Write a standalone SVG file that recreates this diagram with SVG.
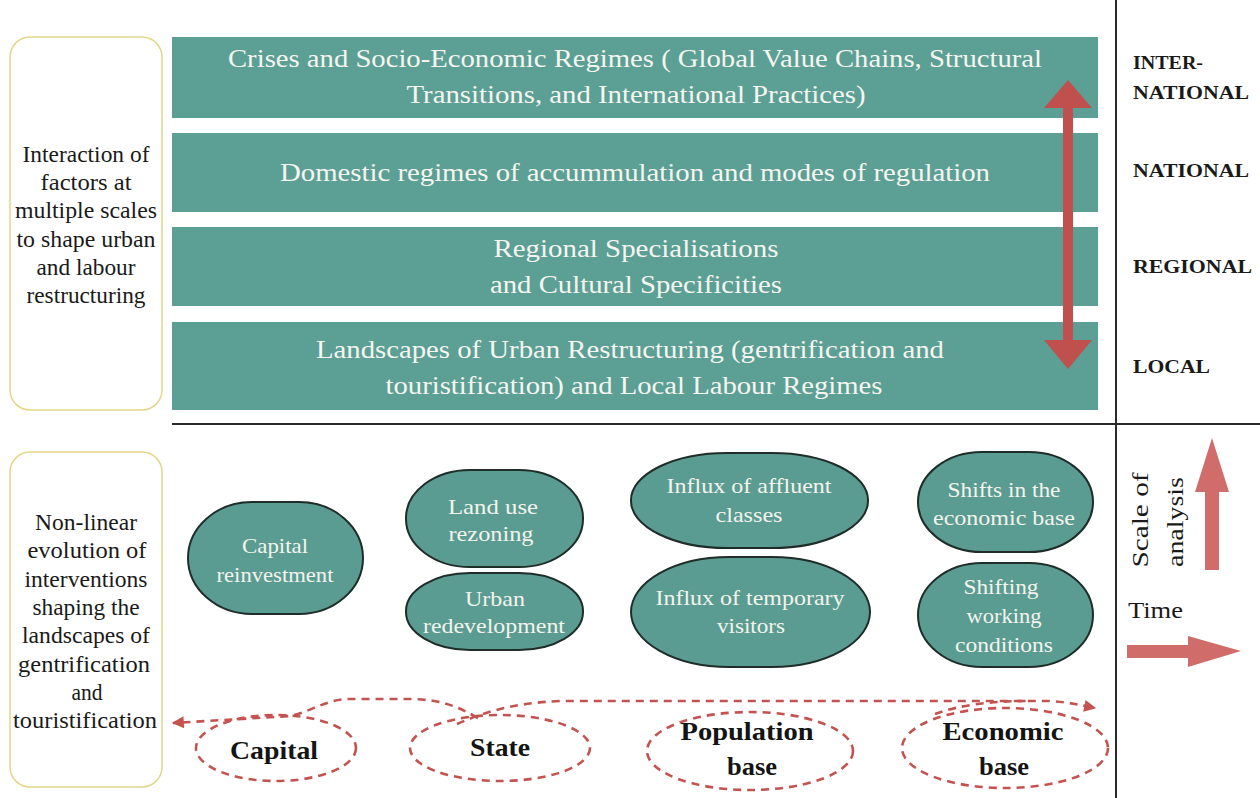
<svg xmlns="http://www.w3.org/2000/svg" width="1260" height="798" viewBox="0 0 1260 798">
  <defs>
    <style>
      .bar { fill: #5c9f95; }
      .bartxt { font-family: "Liberation Serif", "Times New Roman", serif; font-size: 26px; fill: #f6f6f0; text-anchor: middle; }
      .frame { fill: #ffffff; stroke: #e4d688; stroke-width: 1.5; }
      .sidetxt { font-family: "Liberation Serif", "Times New Roman", serif; font-size: 23px; fill: #1a1a1a; text-anchor: middle; }
      .scale { font-family: "Liberation Serif", "Times New Roman", serif; font-size: 19px; font-weight: bold; fill: #1a1a1a; }
      .node { fill: #5a9c92; stroke: #1f2d29; stroke-width: 2; }
      .nodetxt { font-family: "Liberation Serif", "Times New Roman", serif; font-size: 22px; fill: #f4f4ec; text-anchor: middle; }
      .driver { fill: none; stroke: #c4524f; stroke-width: 2.6; stroke-dasharray: 8 6; }
      .drivertxt { font-family: "Liberation Serif", "Times New Roman", serif; font-size: 26px; font-weight: bold; fill: #141414; text-anchor: middle; }
      .flow { fill: none; stroke: #c4524f; stroke-width: 2.6; stroke-dasharray: 8 6; }
      .axis { font-family: "Liberation Serif", "Times New Roman", serif; font-size: 24px; fill: #1a1a1a; }
      .rule { stroke: #2a2a2a; stroke-width: 2; fill: none; }
    </style>
    <marker id="tip" viewBox="0 0 10 10" refX="9" refY="5" markerWidth="14" markerHeight="12" markerUnits="userSpaceOnUse" orient="auto">
      <path d="M0,0 L10,5 L0,10 z" fill="#c4524f"/>
    </marker>
  </defs>

  <rect width="1260" height="798" fill="#ffffff"/>

  <!-- dividing rules -->
  <g id="rules">
    <line class="rule" x1="1116" y1="0" x2="1116" y2="798"/>
    <line class="rule" x1="172" y1="424" x2="1260" y2="424"/>
  </g>

  <!-- upper panel: caption frame -->
  <g id="scales-caption">
    <rect class="frame" x="10" y="37" width="152" height="373" rx="20"/>
    <text class="sidetxt" x="86" y="162" textLength="127" lengthAdjust="spacingAndGlyphs">Interaction of</text>
    <text class="sidetxt" x="86" y="190" textLength="91" lengthAdjust="spacingAndGlyphs">factors at</text>
    <text class="sidetxt" x="86" y="218" textLength="142" lengthAdjust="spacingAndGlyphs">multiple scales</text>
    <text class="sidetxt" x="86" y="247" textLength="139" lengthAdjust="spacingAndGlyphs">to shape urban</text>
    <text class="sidetxt" x="86" y="275" textLength="99" lengthAdjust="spacingAndGlyphs">and labour</text>
    <text class="sidetxt" x="86" y="303" textLength="119" lengthAdjust="spacingAndGlyphs">restructuring</text>
  </g>

  <!-- upper panel: scale bars -->
  <g id="bar-international">
    <rect class="bar" x="172" y="37" width="926" height="81"/>
    <text class="bartxt" x="635" y="67" textLength="814" lengthAdjust="spacingAndGlyphs">Crises and Socio-Economic Regimes ( Global Value Chains, Structural</text>
    <text class="bartxt" x="636" y="103" textLength="459" lengthAdjust="spacingAndGlyphs">Transitions, and International Practices)</text>
  </g>
  <g id="bar-national">
    <rect class="bar" x="172" y="133" width="926" height="79"/>
    <text class="bartxt" x="635" y="181" textLength="710" lengthAdjust="spacingAndGlyphs">Domestic regimes of accummulation and modes of regulation</text>
  </g>
  <g id="bar-regional">
    <rect class="bar" x="172" y="227" width="926" height="79"/>
    <text class="bartxt" x="636" y="257" textLength="285" lengthAdjust="spacingAndGlyphs">Regional Specialisations</text>
    <text class="bartxt" x="636" y="293" textLength="292" lengthAdjust="spacingAndGlyphs">and Cultural Specificities</text>
  </g>
  <g id="bar-local">
    <rect class="bar" x="172" y="322" width="926" height="88"/>
    <text class="bartxt" x="630" y="358" textLength="628" lengthAdjust="spacingAndGlyphs">Landscapes of Urban Restructuring (gentrification and</text>
    <text class="bartxt" x="634" y="394" textLength="497" lengthAdjust="spacingAndGlyphs">touristification) and Local Labour Regimes</text>
  </g>

  <!-- double-headed scale arrow -->
  <g id="scale-arrow">
    <polygon fill="#c0504d" points="1068,80 1092,108 1073,108 1073,340 1092,340 1068,369 1044,340 1063,340 1063,108 1044,108"/>
  </g>

  <!-- scale labels -->
  <g id="scale-labels">
    <text class="scale" x="1133" y="69" textLength="70" lengthAdjust="spacingAndGlyphs">INTER-</text>
    <text class="scale" x="1133" y="99" textLength="116" lengthAdjust="spacingAndGlyphs">NATIONAL</text>
    <text class="scale" x="1133" y="177" textLength="116" lengthAdjust="spacingAndGlyphs">NATIONAL</text>
    <text class="scale" x="1133" y="273" textLength="119" lengthAdjust="spacingAndGlyphs">REGIONAL</text>
    <text class="scale" x="1133" y="373" textLength="77" lengthAdjust="spacingAndGlyphs">LOCAL</text>
  </g>

  <!-- lower panel: caption frame -->
  <g id="interventions-caption">
    <rect class="frame" x="10" y="452" width="152" height="335" rx="20"/>
    <text class="sidetxt" x="86" y="530" textLength="102" lengthAdjust="spacingAndGlyphs">Non-linear</text>
    <text class="sidetxt" x="87" y="558" textLength="119" lengthAdjust="spacingAndGlyphs">evolution of</text>
    <text class="sidetxt" x="86" y="587" textLength="123" lengthAdjust="spacingAndGlyphs">interventions</text>
    <text class="sidetxt" x="86" y="615" textLength="107" lengthAdjust="spacingAndGlyphs">shaping the</text>
    <text class="sidetxt" x="86" y="643" textLength="128" lengthAdjust="spacingAndGlyphs">landscapes of</text>
    <text class="sidetxt" x="84" y="672" textLength="132" lengthAdjust="spacingAndGlyphs">gentrification</text>
    <text class="sidetxt" x="87" y="700" textLength="31" lengthAdjust="spacingAndGlyphs">and</text>
    <text class="sidetxt" x="85" y="728" textLength="144" lengthAdjust="spacingAndGlyphs">touristification</text>
  </g>

  <!-- interventions -->
  <g id="capital-reinvestment">
    <rect class="node" x="188" y="502" width="175" height="112" rx="64" ry="56"/>
    <text class="nodetxt" x="275" y="553" textLength="66" lengthAdjust="spacingAndGlyphs">Capital</text>
    <text class="nodetxt" x="275" y="582" textLength="117" lengthAdjust="spacingAndGlyphs">reinvestment</text>
  </g>
  <g id="land-use-rezoning">
    <rect class="node" x="406" y="470" width="177" height="97" rx="64" ry="48"/>
    <text class="nodetxt" x="493" y="514" textLength="90" lengthAdjust="spacingAndGlyphs">Land use</text>
    <text class="nodetxt" x="491" y="541" textLength="85" lengthAdjust="spacingAndGlyphs">rezoning</text>
  </g>
  <g id="urban-redevelopment">
    <rect class="node" x="406" y="573" width="177" height="77" rx="64" ry="38"/>
    <text class="nodetxt" x="495" y="606" textLength="60" lengthAdjust="spacingAndGlyphs">Urban</text>
    <text class="nodetxt" x="494" y="633" textLength="142" lengthAdjust="spacingAndGlyphs">redevelopment</text>
  </g>
  <g id="influx-affluent">
    <rect class="node" x="631" y="453" width="237" height="95" rx="96" ry="47"/>
    <text class="nodetxt" x="749" y="493" textLength="165" lengthAdjust="spacingAndGlyphs">Influx of affluent</text>
    <text class="nodetxt" x="749" y="522" textLength="67" lengthAdjust="spacingAndGlyphs">classes</text>
  </g>
  <g id="influx-visitors">
    <rect class="node" x="631" y="557" width="239" height="110" rx="98" ry="55"/>
    <text class="nodetxt" x="750" y="605" textLength="189" lengthAdjust="spacingAndGlyphs">Influx of temporary</text>
    <text class="nodetxt" x="751" y="633" textLength="68" lengthAdjust="spacingAndGlyphs">visitors</text>
  </g>
  <g id="economic-shifts">
    <rect class="node" x="918" y="452" width="175" height="100" rx="64" ry="50"/>
    <text class="nodetxt" x="1004" y="497" textLength="113" lengthAdjust="spacingAndGlyphs">Shifts in the</text>
    <text class="nodetxt" x="1004" y="525" textLength="142" lengthAdjust="spacingAndGlyphs">economic base</text>
  </g>
  <g id="working-conditions">
    <rect class="node" x="918" y="563" width="175" height="104" rx="64" ry="52"/>
    <text class="nodetxt" x="1001" y="594" textLength="75" lengthAdjust="spacingAndGlyphs">Shifting</text>
    <text class="nodetxt" x="1004" y="623" textLength="75" lengthAdjust="spacingAndGlyphs">working</text>
    <text class="nodetxt" x="1004" y="652" textLength="98" lengthAdjust="spacingAndGlyphs">conditions</text>
  </g>

  <!-- drivers -->
  <g id="driver-capital">
    <ellipse class="driver" cx="276" cy="748" rx="80" ry="33"/>
    <text class="drivertxt" x="274" y="759" textLength="88" lengthAdjust="spacingAndGlyphs">Capital</text>
  </g>
  <g id="driver-state">
    <ellipse class="driver" cx="500" cy="748" rx="90" ry="33"/>
    <text class="drivertxt" x="500" y="756" textLength="60" lengthAdjust="spacingAndGlyphs">State</text>
  </g>
  <g id="driver-population">
    <ellipse class="driver" cx="750" cy="751" rx="103" ry="39"/>
    <text class="drivertxt" x="747" y="740" textLength="133" lengthAdjust="spacingAndGlyphs">Population</text>
    <text class="drivertxt" x="752" y="775" textLength="50" lengthAdjust="spacingAndGlyphs">base</text>
  </g>
  <g id="driver-economic">
    <ellipse class="driver" cx="1005" cy="748" rx="103" ry="40"/>
    <text class="drivertxt" x="1003" y="740" textLength="121" lengthAdjust="spacingAndGlyphs">Economic</text>
    <text class="drivertxt" x="1004" y="775" textLength="50" lengthAdjust="spacingAndGlyphs">base</text>
  </g>

  <!-- connectors weaving between the drivers -->
  <g id="connectors">
    <path class="flow" d="M478,718 C455,705 440,700 413,699 L347,699 C325,700 310,712 290,716 L173,723" marker-end="url(#tip)"/>
    <path class="flow" d="M457,724 C480,714 510,703 560,701 L1050,701 C1068,702 1080,705 1095,708" marker-end="url(#tip)"/>
    <path class="flow" d="M935,714 C960,705 990,701 1030,701"/>
  </g>

  <!-- legend: axes -->
  <g id="legend-scale">
    <text class="axis" transform="translate(1148,520) rotate(-90)" text-anchor="middle" textLength="95" lengthAdjust="spacingAndGlyphs">Scale of</text>
    <text class="axis" transform="translate(1183,522) rotate(-90)" text-anchor="middle" textLength="90" lengthAdjust="spacingAndGlyphs">analysis</text>
    <polygon fill="#d06c6a" points="1212,438 1229,492 1219,492 1219,570 1205,570 1205,492 1195,492"/>
  </g>
  <g id="legend-time">
    <text class="axis" x="1128" y="618" textLength="55" lengthAdjust="spacingAndGlyphs">Time</text>
    <polygon fill="#d06c6a" points="1127,645 1188,645 1188,636 1241,651 1188,667 1188,658 1127,658"/>
  </g>
</svg>
